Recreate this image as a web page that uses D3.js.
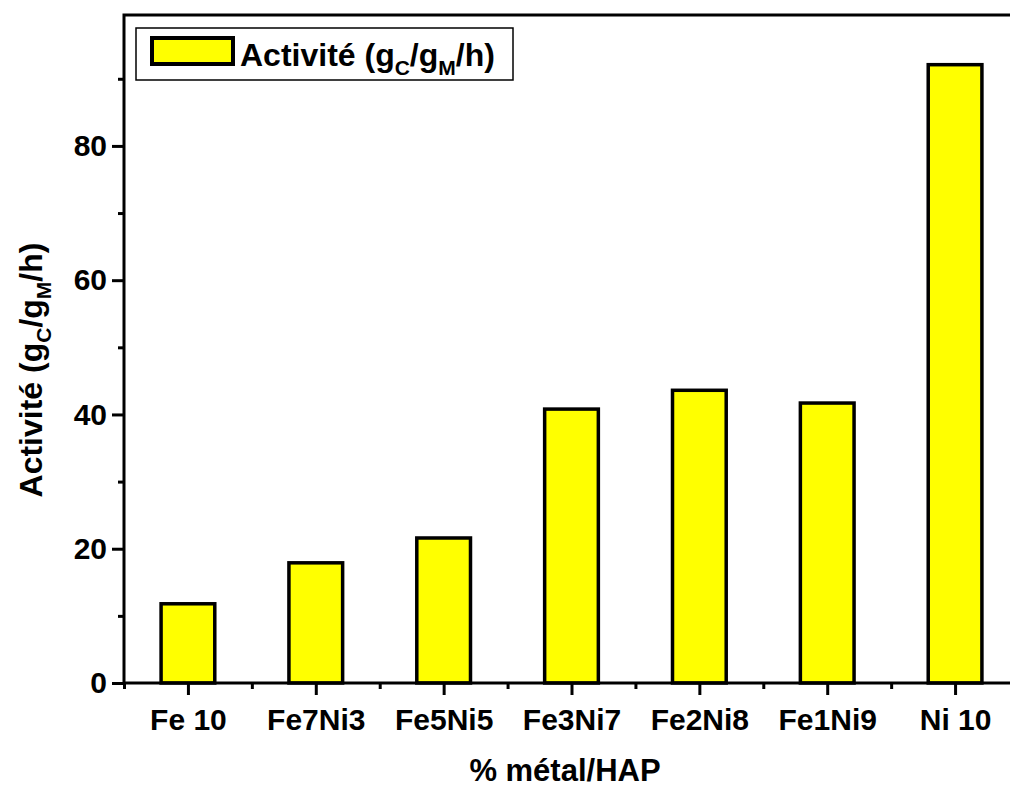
<!DOCTYPE html>
<html>
<head>
<meta charset="utf-8">
<script src="https://cdn.jsdelivr.net/npm/d3@7"></script>
<style>
  html, body { margin: 0; padding: 0; background: #fff; }
  svg { display: block; }
  text { font-family: "Liberation Sans", Arial, sans-serif; font-weight: bold; fill: #000; }
</style>
</head>
<body>
<svg id="chart" width="1010" height="787"></svg>
<script>
const categories = ["Fe 10", "Fe7Ni3", "Fe5Ni5", "Fe3Ni7", "Fe2Ni8", "Fe1Ni9", "Ni 10"];
const activity = [11.8, 17.9, 21.6, 40.8, 43.6, 41.7, 92.1];
const yTicks = [0, 20, 40, 60, 80];
const yMinorTicks = [10, 30, 50, 70, 90];
const seriesName = "Activité";

const svg = d3.select("#chart");
const pL = 124, pR = 1019, pT = 15, pB = 683;

const x = d3.scaleLinear().domain([0.5, categories.length + 0.5]).range([pL, pR]);
const y = d3.scaleLinear().domain([0, 99.5]).range([pB, pT]);

// bars
const barW = 0.42 * (x(2) - x(1));
svg.append("g").selectAll("rect").data(activity).join("rect")
  .attr("x", (d, i) => x(i + 1) - barW / 2)
  .attr("y", d => y(d))
  .attr("width", barW)
  .attr("height", d => y(0) - y(d))
  .attr("fill", "#ffff00")
  .attr("stroke", "#000")
  .attr("stroke-width", 3.5);

// frame
svg.append("rect").attr("x", pL).attr("y", pT).attr("width", pR - pL).attr("height", pB - pT)
  .attr("fill", "none").attr("stroke", "#000").attr("stroke-width", 3);

// y axis
const yAxis = svg.append("g").attr("transform", `translate(${pL},0)`)
  .call(d3.axisLeft(y).tickValues(yTicks).tickSize(12).tickPadding(5).tickFormat(d3.format("d")));
yAxis.select(".domain").remove();
yAxis.selectAll("line").attr("stroke-width", 3);
yAxis.selectAll("text").style("font-size", "30px");
const yMinor = svg.append("g").attr("transform", `translate(${pL},0)`)
  .call(d3.axisLeft(y).tickValues(yMinorTicks).tickSize(6).tickFormat(""));
yMinor.select(".domain").remove();
yMinor.selectAll("line").attr("stroke-width", 3);

// x axis
const catPos = categories.map((c, i) => i + 1);
const xAxis = svg.append("g").attr("transform", `translate(0,${pB})`)
  .call(d3.axisBottom(x).tickValues(catPos).tickSize(12).tickPadding(14).tickFormat((d) => categories[d - 1]));
xAxis.select(".domain").remove();
xAxis.selectAll("line").attr("stroke-width", 3);
xAxis.selectAll("text").style("font-size", "30px");
const xMinor = svg.append("g").attr("transform", `translate(0,${pB})`)
  .call(d3.axisBottom(x).tickValues(d3.range(0.5, categories.length + 1, 1)).tickSize(6).tickFormat(""));
xMinor.select(".domain").remove();
xMinor.selectAll("line").attr("stroke-width", 3);

// axis titles
svg.append("text").attr("x", 565).attr("y", 781)
  .attr("text-anchor", "middle").style("font-size", "31px").text("% métal/HAP");

function subLabel(sel) {
  sel.append("tspan").text(seriesName + " (g");
  sel.append("tspan").attr("dy", 9).style("font-size", "21px").text("C");
  sel.append("tspan").attr("dy", -9).text("/g");
  sel.append("tspan").attr("dy", 9).style("font-size", "21px").text("M");
  sel.append("tspan").attr("dy", -9).text("/h)");
}

const yt = svg.append("text").attr("transform", `translate(42,370) rotate(-90)`)
  .attr("text-anchor", "middle").style("font-size", "32px");
subLabel(yt);

// legend
const lg = svg.append("g");
lg.append("rect").attr("x", 136).attr("y", 28).attr("width", 377).attr("height", 52)
  .attr("fill", "#fff").attr("stroke", "#000").attr("stroke-width", 1.5);
lg.append("rect").attr("x", 152).attr("y", 38).attr("width", 81).attr("height", 26)
  .attr("fill", "#ffff00").attr("stroke", "#000").attr("stroke-width", 4);
const lt = lg.append("text").attr("x", 240).attr("y", 66).style("font-size", "32px");
subLabel(lt);
</script>
</body>
</html>
